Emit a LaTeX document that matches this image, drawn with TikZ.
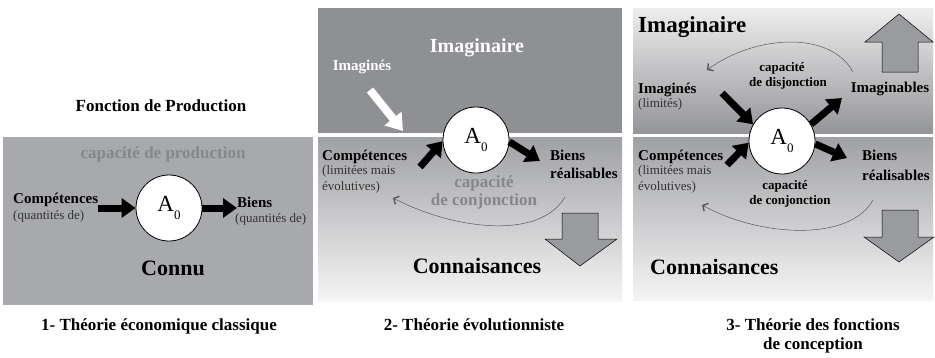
\documentclass[tikz,border=0pt]{standalone}
\usepackage{fontspec}
\setmainfont{Liberation Serif}
\usepackage{xcolor}
\usepackage{tikz}
\usetikzlibrary{positioning, arrows.meta}

\definecolor{boxgray}{HTML}{A8A9AD}
\definecolor{imaggray}{HTML}{8F9094}
\definecolor{textgray}{HTML}{86878B}
\definecolor{arrowgray}{HTML}{9A9B9F}
\definecolor{curvegray}{HTML}{5A5A5E}
\newcommand{\setfs}[1]{\fontsize{#1}{#1}\selectfont}

\begin{document}
\begin{tikzpicture}[x=1pt,y=-1pt]
					\tikzstyle{actor}=[circle,draw=black,line width=0.8pt,fill=white,minimum size=66pt,inner sep=0pt]
					\tikzstyle{flow}=[line width=7pt,-{Triangle[length=14pt,width=19pt]}]
					\tikzstyle{whiteflow}=[line width=8pt,white,-{Triangle[length=16pt,width=21pt]}]
					\tikzstyle{bigarrow}=[draw=black,line width=0.5pt,fill=arrowgray]
					\tikzstyle{cycleline}=[line width=0.5pt,draw=curvegray,-{Straight Barb[length=4pt,width=9pt,line width=1.4pt]}]
					\tikzstyle{txt}=[inner sep=0pt,font=\bfseries\setfs{15},anchor=base west]
					\tikzstyle{subtxt}=[inner sep=0pt,font=\setfs{13},text=black!80,anchor=base west]
					\tikzstyle{captxt}=[inner sep=0pt,font=\bfseries\setfs{17},anchor=base]
					\tikzstyle{bigtxt}=[inner sep=0pt,font=\bfseries\setfs{22},anchor=base]
					\useasboundingbox (0,0) rectangle (935,357);
					% 1- classique
					\fill[boxgray] (3,137) rectangle (313,305);
					\node[captxt](fonction) at (161,111){Fonction de Production};
					\node[captxt,text=textgray](prod) at (163,158){capacité de production};
					\node[actor](a1) at (169,208){\setfs{23}A\raisebox{-8pt}{\setfs{13}0}};
					\node[txt](comp1) at (13,203){Compétences};
					\node[subtxt](comp1sub) at (13,219){(quantités de)};
					\node[txt](biens1) at (237,207){Biens};
					\node[subtxt](biens1sub) at (235,222){(quantités de)};
					\node[bigtxt](connu) at (173,275){Connu};
					\node[captxt](cap1) at (159,330){1- Théorie économique classique};
					\draw[flow] (comp1.east |- a1.west) -- (a1.west);
					\draw[flow] (a1.east) -- (biens1.west |- a1.east);
					% 2- evolutionniste
					\fill[imaggray] (318,8) rectangle (622,133);
					\shade[top color=boxgray!95!black,bottom color=white!96!black] (318,137) rectangle (622,301);
					\node[bigtxt,text=white,font=\bfseries\setfs{20}](imag2) at (477,52){Imaginaire};
					\node[txt,text=white,anchor=base](imagines2) at (362,70){Imaginés};
					\coordinate (w2s) at (370,90);
					\coordinate (w2e) at (403,131);
					\draw[whiteflow] (w2s) -- (w2e);
					\node[actor](a2) at (476,140){\setfs{23}A\raisebox{-8pt}{\setfs{13}0}};
					\node[txt](comp2) at (322,160){Compétences};
					\node[subtxt](comp2a) at (322,174){(limitées mais};
					\node[subtxt](comp2b) at (322,190){évolutives)};
					\node[txt](biens2) at (550,160){Biens};
					\node[txt](biens2b) at (550,178){réalisables};
					\node[captxt,text=textgray](conj2a) at (484,187){capacité};
					\node[captxt,text=textgray](conj2b) at (484,205){de conjonction};
					\coordinate (c2s) at (420,167);
					\coordinate (b2e) at (540,161);
					\draw[flow] (c2s) -- (a2.182);
					\draw[flow] (a2.-3) -- (b2e);
					\coordinate (k2s) at (565,197);
					\coordinate (k2e) at (393,198);
					\draw[cycleline] (k2s) .. controls (540,240) and (455,230) .. (k2e);
					\draw[bigarrow] (562,213) -- (598,213) -- (598,239) -- (617,239) -- (580,266) -- (545,239) -- (562,239) -- cycle;
					\node[bigtxt](conn2) at (477,273){Connaisances};
					\node[captxt](cap2) at (474,330){2- Théorie évolutionniste};
					% 3- fonctions de conception
					\shade[top color=white!93!black,bottom color=imaggray!95!white] (633,8) rectangle (933,133);
					\shade[top color=boxgray!95!black,bottom color=white!96!black] (633,137) rectangle (933,300);
					\draw[bigarrow] (882,72) -- (918,72) -- (918,42) -- (933,42) -- (899,14) -- (865,42) -- (882,42) -- cycle;
					\draw[bigarrow] (882,210) -- (918,210) -- (918,237) -- (934,237) -- (899,262) -- (864,237) -- (882,237) -- cycle;
					\node[bigtxt,anchor=base west,font=\bfseries\setfs{23}](imag3) at (638,32){Imaginaire};
					\node[captxt,font=\bfseries\setfs{13}](disj3a) at (782,71){capacité};
					\node[captxt,font=\bfseries\setfs{13}](disj3b) at (788,86){de disjonction};
					\node[txt](imagines3) at (638,93){Imaginés};
					\node[subtxt](imagines3sub) at (638,107){(limités)};
					\node[txt,anchor=base](imaginables3) at (890,92){Imaginables};
					\node[actor](a3) at (782,141){\setfs{23}A\raisebox{-8pt}{\setfs{13}0}};
					\node[txt](comp3) at (638,160){Compétences};
					\node[subtxt](comp3a) at (638,174){(limitées mais};
					\node[subtxt](comp3b) at (638,190){évolutives)};
					\node[txt](biens3) at (862,160){Biens};
					\node[txt](biens3b) at (862,180){réalisables};
					\node[captxt,font=\bfseries\setfs{13}](conj3a) at (785,189){capacité};
					\node[captxt,font=\bfseries\setfs{13}](conj3b) at (790,204){de conjonction};
					\coordinate (i3s) at (722,93);
					\coordinate (m3e) at (842,98);
					\coordinate (c3s) at (727,165);
					\coordinate (b3e) at (847,158);
					\draw[flow] (i3s) -- (a3.150);
					\draw[flow] (a3.30) -- (m3e);
					\draw[flow] (c3s) -- (a3.183);
					\draw[flow] (a3.-5) -- (b3e);
					\coordinate (t3s) at (853,72);
					\coordinate (t3e) at (707,70);
					\draw[cycleline] (t3s) .. controls (830,30) and (755,35) .. (t3e);
					\coordinate (k3s) at (873,200);
					\coordinate (k3e) at (702,205);
					\draw[cycleline] (k3s) .. controls (850,242) and (760,237) .. (k3e);
					\node[bigtxt,anchor=base west](conn3) at (650,274){Connaisances};
					\node[captxt](cap3a) at (813,330){3- Théorie des fonctions};
					\node[captxt](cap3b) at (813,349){de conception};
				\end{tikzpicture}
\end{document}
